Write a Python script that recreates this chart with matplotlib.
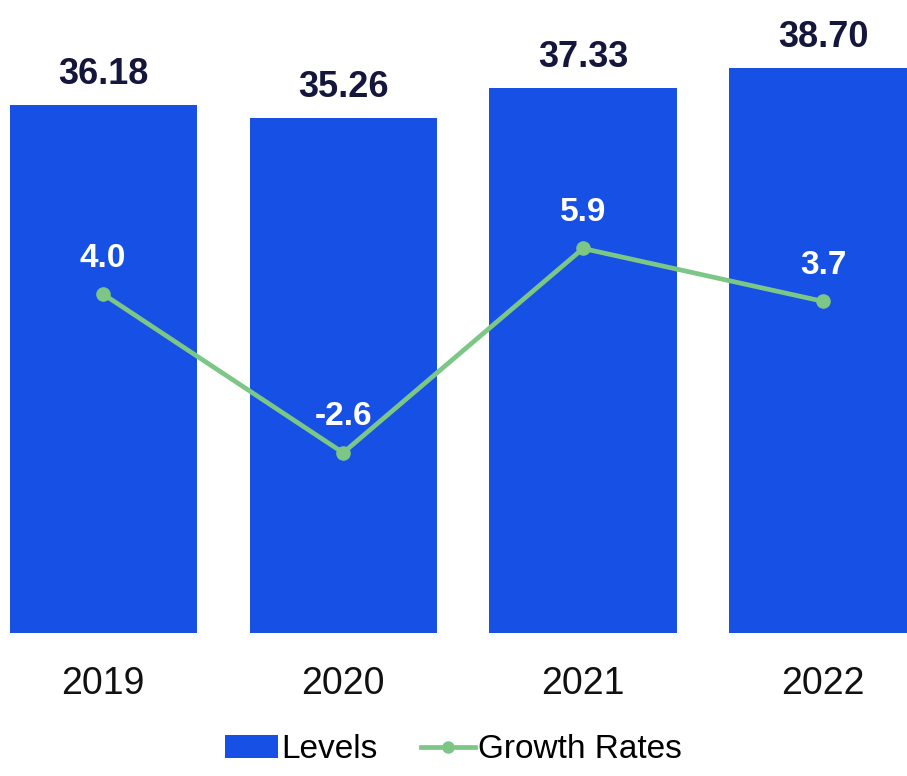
import matplotlib
matplotlib.use("Agg")
import matplotlib.pyplot as plt
from matplotlib.lines import Line2D
from matplotlib.patches import Patch

years = ["2019", "2020", "2021", "2022"]
levels = [36.18, 35.26, 37.33, 38.70]
growth = [4.0, -2.6, 5.9, 3.7]

plt.rcParams['font.family'] = ['Liberation Sans', 'DejaVu Sans']

BLUE = "#1650e4"
GREEN = "#7cc686"
NAVY = "#14163c"

fig = plt.figure(figsize=(9.07, 7.76), dpi=100)
ax = fig.add_axes([0.0, (776 - 633) / 776, 1.0, 584 / 776])
x = list(range(len(years)))
ax.bar(x, levels, width=0.78, color=BLUE)
ax.set_xlim(-0.43, 3.35)
ax.set_ylim(0, 40)
for xi, v in zip(x, levels):
    ax.annotate(f"{v:.2f}", (xi, v), xytext=(0, 22), textcoords="offset points",
                ha="center", va="center", fontsize=26, fontweight="bold", color=NAVY)
ax.set_yticks([])
ax.set_xticks(x)
ax.set_xticklabels(years, fontsize=27, color="#111111")
ax.tick_params(axis="x", length=0, pad=24)
for s in ax.spines.values():
    s.set_visible(False)

ax2 = ax.twinx()
ax2.plot(x, growth, color=GREEN, lw=3.4, marker="o", markersize=9.5)
ax2.set_ylim(-10.1, 14.2)
ax2.set_yticks([])
for s in ax2.spines.values():
    s.set_visible(False)
for xi, v in zip(x, growth):
    ax2.annotate(f"{v:.1f}", (xi, v), xytext=(0, 26), textcoords="offset points",
                 ha="center", va="center", fontsize=24, fontweight="bold", color="white")

handles = [Patch(facecolor=BLUE, label="Levels"),
           Line2D([0], [0], color=GREEN, lw=3.4, marker="o", markersize=8, label="Growth Rates")]
fig.legend(handles=handles, loc="lower center", bbox_to_anchor=(0.5, -0.025), ncol=2,
           frameon=False, fontsize=24, handlelength=1.6, handletextpad=0.1, columnspacing=1.3)

fig.savefig("out.png", dpi=100)
